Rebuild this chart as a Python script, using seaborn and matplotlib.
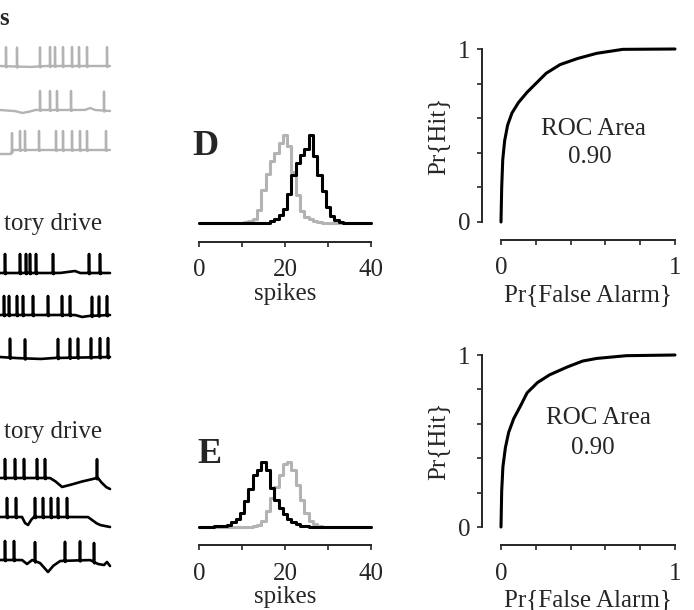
import numpy as np
import pandas as pd
import seaborn as sns
import matplotlib.pyplot as plt

# spike count histograms (peak normalised), counts 0..40
spike_counts = list(range(0, 41))
d_gray = [0, 0, 0, 0, 0, 0, 0, 0, 0, 0, 0,
          .01, .02, .05, .15, .37, .56, .70, .80, .91, 1.0,
          .87, .58, .32, .14, .07, .04, .02, .01, 0, 0,
          0, 0, 0, 0, 0, 0, 0, 0, 0, 0]
d_black = [0, 0, 0, 0, 0, 0, 0, 0, 0, 0, 0,
           0, 0, 0, 0, 0, 0, .02, .05, .09, .16,
           .33, .55, .68, .77, .84, 1.0, .76, .54, .36, .18,
           .08, .03, .01, 0, 0, 0, 0, 0, 0, 0]
e_black = [0, 0, 0, 0, .01, .01, .02, .03, .07, .13, .22,
           .40, .59, .80, .88, 1.0, .88, .60, .42, .30, .20,
           .13, .08, .04, .02, .01, 0, 0, 0, 0, 0,
           0, 0, 0, 0, 0, 0, 0, 0, 0, 0]
e_gray = [0, 0, 0, 0, 0, 0, 0, 0, 0, 0, 0,
          0, 0, .01, .03, .10, .25, .45, .62, .80, .97,
          1.0, .87, .65, .42, .21, .10, .04, .01, 0, 0,
          0, 0, 0, 0, 0, 0, 0, 0, 0, 0]

# ROC curves
roc_d_fa = [0, .004, .01, .021, .038, .063, .10, .15, .21, .26, .34, .44, .55, .70, 1.0]
roc_d_hit = [0, .20, .36, .47, .56, .63, .69, .75, .81, .86, .91, .945, .975, .998, 1.0]
roc_e_fa = [0, .004, .011, .025, .044, .073, .11, .15, .21, .28, .38, .47, .55, .72, 1.0]
roc_e_hit = [0, .21, .35, .46, .55, .63, .70, .78, .84, .885, .93, .965, .98, .996, 1.0]
roc_area = ["0.90", "0.90"]

# spike trains (time, ms) for the example voltage traces
gray_spikes = [[6, 17, 40, 50, 55, 63, 72, 79, 87, 107],
               [40, 50, 57, 71, 104],
               [12, 20, 25, 39, 56, 63, 72, 80, 87, 106]]
exc_spikes = [[5, 20, 26, 30, 36, 53, 89, 100],
              [4, 9, 17, 23, 33, 48, 62, 70, 92, 99, 107],
              [10, 25, 58, 70, 78, 91, 100, 108]]
inh_spikes = [[5, 15, 24, 37, 45, 97],
              [7, 16, 35, 43, 51, 58, 67],
              [5, 14, 35, 65, 80, 94]]
# baseline (time, deflection) breakpoints
gray_base = [[(0, 0), (30, -1), (45, 0), (110, 0)],
             [(0, 0), (15, -1), (22, -3), (28, -2), (35, 0), (85, 0), (90, 2), (95, 0), (110, -1)],
             [(0, -4), (11, -4), (13, 0), (110, 0)]]
exc_base = [[(0, 0), (60, 0), (68, 1), (75, 2), (80, 0), (110, 0)],
            [(0, 0), (75, 0), (82, -2), (88, -1), (110, 0)],
            [(0, 0), (15, -1), (40, -2), (55, -1), (110, 0)]]
inh_base = [[(0, 0), (50, 0), (55, -3), (62, -9), (70, -7), (80, -4), (93, -1), (98, 0),
             (101, -4), (106, -9), (110, -11)],
            [(0, 0), (22, 0), (25, -6), (28, -8), (31, -3), (34, 0), (88, 0), (92, -3),
             (96, -6), (100, -8), (105, -9), (110, -10)],
            [(0, 0), (22, 0), (27, -4), (32, 0), (40, -3), (48, -12), (53, -6), (60, -1),
             (90, 0), (98, -4), (104, -5), (107, -2), (110, -6)]]

sns.set_style("ticks")
plt.rcParams["font.family"] = ["Liberation Serif", "DejaVu Serif"]
plt.rcParams["font.size"] = 18

W, H = 694, 610
fig = plt.figure(figsize=(W / 100, H / 100), dpi=100)


def rect(x0, y0, x1, y1):
    return [x0 / W, 1 - y1 / H, (x1 - x0) / W, (y1 - y0) / H]


GRAY = "#b3b3b3"
PT = 0.72  # points per pixel

# ---- voltage traces ----
ax_tr = fig.add_axes(rect(0, 0, 120, 610))
ax_tr.set_xlim(0, 120)
ax_tr.set_ylim(610, 0)
ax_tr.axis("off")

groups = [(gray_spikes, gray_base, GRAY, [66, 110, 150], 1.7),
          (exc_spikes, exc_base, "black", [273, 315, 357], 1.9),
          (inh_spikes, inh_base, "black", [478, 517, 560], 1.9)]
for spikes, bases, color, levels, lw in groups:
    for sp, bp, lev in zip(spikes, bases, levels):
        t = np.round(np.arange(0, 110.05, 0.1), 1)
        bt, bv = zip(*bp)
        v = np.interp(t, bt, bv)
        for s in sp:
            i = int(round(s * 10))
            v[i - 10:i] += np.linspace(0, 1.5, 10)
            v[i] += 19
            v[i + 1:i + 6] -= 1.0
        sns.lineplot(x=t, y=lev - v, ax=ax_tr, color=color, lw=lw, sort=False)

fig.text(-1 / W, 1 - 25 / H, "s", weight="bold", va="baseline", ha="left")
fig.text(4 / W, 1 - 230 / H, "tory drive", va="baseline", ha="left")
fig.text(4 / W, 1 - 438 / H, "tory drive", va="baseline", ha="left")

# ---- spike count histograms ----
hist_panels = [("D", rect(199, 135, 371, 223), d_gray, d_black, 19, (192, 155)),
               ("E", rect(199, 462, 371, 527), e_gray, e_black, 18, (197, 463))]
for letter, r, g, b, off, lpos in hist_panels:
    ax = fig.add_axes(r)
    df = pd.DataFrame({"spikes": spike_counts, "gray": g, "black": b})
    sns.lineplot(data=df, x="spikes", y="gray", ax=ax, color=GRAY, lw=2.2,
                 drawstyle="steps-mid", clip_on=False)
    sns.lineplot(data=df, x="spikes", y="black", ax=ax, color="black", lw=2.2,
                 drawstyle="steps-mid", clip_on=False)
    ax.set_xlim(0, 40)
    ax.set_ylim(0, 1)
    for s in ["top", "right", "left"]:
        ax.spines[s].set_visible(False)
    ax.spines["bottom"].set_position(("outward", off * PT))
    ax.spines["bottom"].set_linewidth(1.4)
    ax.set_yticks([])
    ax.set_xticks([0, 10, 20, 30, 40])
    ax.set_xticklabels(["0", "", "20", "", "40"])
    ax.tick_params(axis="x", length=5 * PT, width=1.2, pad=9, direction="out")
    ax.set_xlabel("spikes", labelpad=1)
    ax.set_ylabel("")
    fig.text(lpos[0] / W, 1 - lpos[1] / H, letter, fontsize=26, weight="bold",
             va="baseline", ha="left")

# ---- ROC curves ----
roc_panels = [(rect(501, 49, 675, 222), roc_d_fa, roc_d_hit, roc_area[0], (0.53, 0.54), (0.51, 0.375)),
              (rect(501, 355, 675, 527), roc_e_fa, roc_e_hit, roc_area[1], (0.56, 0.634), (0.53, 0.46))]
for r, fa, hit, area, p1, p2 in roc_panels:
    ax = fig.add_axes(r)
    sns.lineplot(x=fa, y=hit, ax=ax, color="black", lw=2.2, sort=False, clip_on=False)
    ax.set_xlim(0, 1)
    ax.set_ylim(0, 1)
    for s in ["top", "right"]:
        ax.spines[s].set_visible(False)
    ax.spines["left"].set_position(("outward", 19 * PT))
    ax.spines["bottom"].set_position(("outward", 18 * PT))
    ax.spines["left"].set_linewidth(1.4)
    ax.spines["bottom"].set_linewidth(1.4)
    ticks = [0, .2, .4, .6, .8, 1]
    ax.set_xticks(ticks)
    ax.set_yticks(ticks)
    ax.set_xticklabels(["0", "", "", "", "", "1"])
    ax.set_yticklabels(["0", "", "", "", "", "1"])
    ax.tick_params(length=5 * PT, width=1.2, pad=5, direction="out")
    ax.tick_params(axis="x", pad=9)
    ax.set_xlabel("Pr{False Alarm}", labelpad=3)
    ax.set_ylabel("Pr{Hit}", labelpad=6)
    ax.text(p1[0], p1[1], "ROC Area", transform=ax.transAxes, ha="center", va="center")
    ax.text(p2[0], p2[1], area, transform=ax.transAxes, ha="center", va="center")

fig.savefig("out.png", dpi=100)
